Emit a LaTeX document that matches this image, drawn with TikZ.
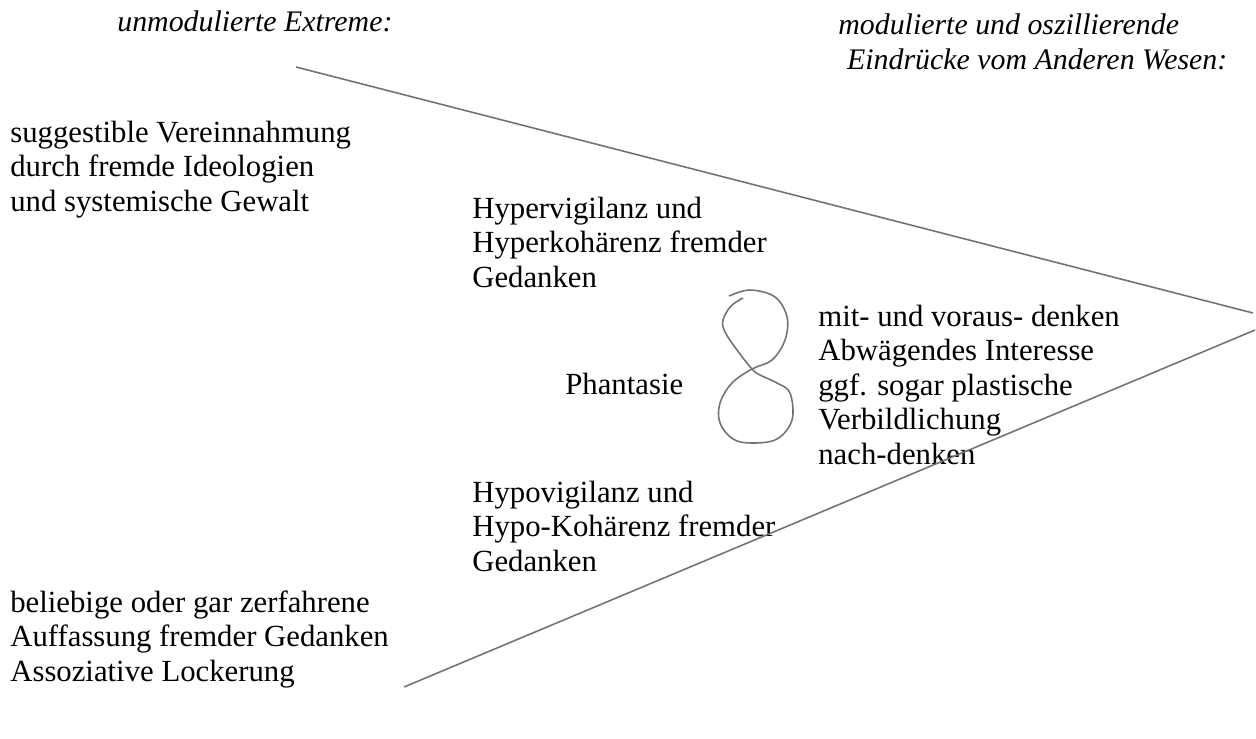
\documentclass[tikz,border=0pt]{standalone}
\usepackage{fontspec}
\setmainfont{Liberation Serif}
\begin{document}
\begin{tikzpicture}[x=0.02cm,y=-0.02cm]
        \useasboundingbox (0,0) rectangle (1256,738);
        \begin{scope}[every node/.style={anchor=base west,align=left,inner sep=0pt,font=\fontsize{17}{19.6}\selectfont\itshape}]
            \node (ext) at (117,31) {unmodulierte Extreme:};
            \node (mod) at (838,69) {modulierte und oszillierende\\\hspace*{5pt}Eindrücke vom Anderen Wesen:};
        \end{scope}
        \begin{scope}[every node/.style={anchor=base west,align=left,inner sep=0pt,font=\fontsize{17.5}{19.6}\selectfont}]
            \node (sugg) at (10,211) {suggestible Vereinnahmung\\durch fremde Ideologien\\und systemische Gewalt};
            \node (hyper) at (472,287) {Hypervigilanz und\\Hyperkohärenz fremder\\Gedanken};
            \node (phan) at (565,394) {Phantasie};
            \node (mit) at (818,464) {mit- und voraus- denken\\Abwägendes Interesse\\ggf. sogar plastische\\Verbildlichung\\nach-denken};
            \node (hypo) at (472,571) {Hypovigilanz und\\Hypo-Kohärenz fremder\\Gedanken};
            \node (bel) at (10,681) {beliebige oder gar zerfahrene\\Auffassung fremder Gedanken\\Assoziative Lockerung};
        \end{scope}
        \coordinate (u) at (296,67);
        \coordinate (tipu) at (1253,313);
        \coordinate (l) at (404,687);
        \coordinate (tipl) at (1255,330);
        \begin{scope}[every edge/.style={draw,line width=0.9pt,color=black!55}]
            \path
                (u) edge (tipu)
                (l) edge (tipl);
        \end{scope}
        % die Acht
        \draw[line width=0.9pt,color=black!55] plot[smooth,tension=0.6] coordinates {(729,296) (750,290) (775,297) (787,317) (785,340) (772,360) (752,369) (732,383) (720,403) (720,423) (733,439) (752,443) (777,439) (792,420) (790,393) (777,383) (760,375) (752,369) (737,350) (725,332) (723,320) (731,306) (743,298)};
    \end{tikzpicture}
\end{document}
